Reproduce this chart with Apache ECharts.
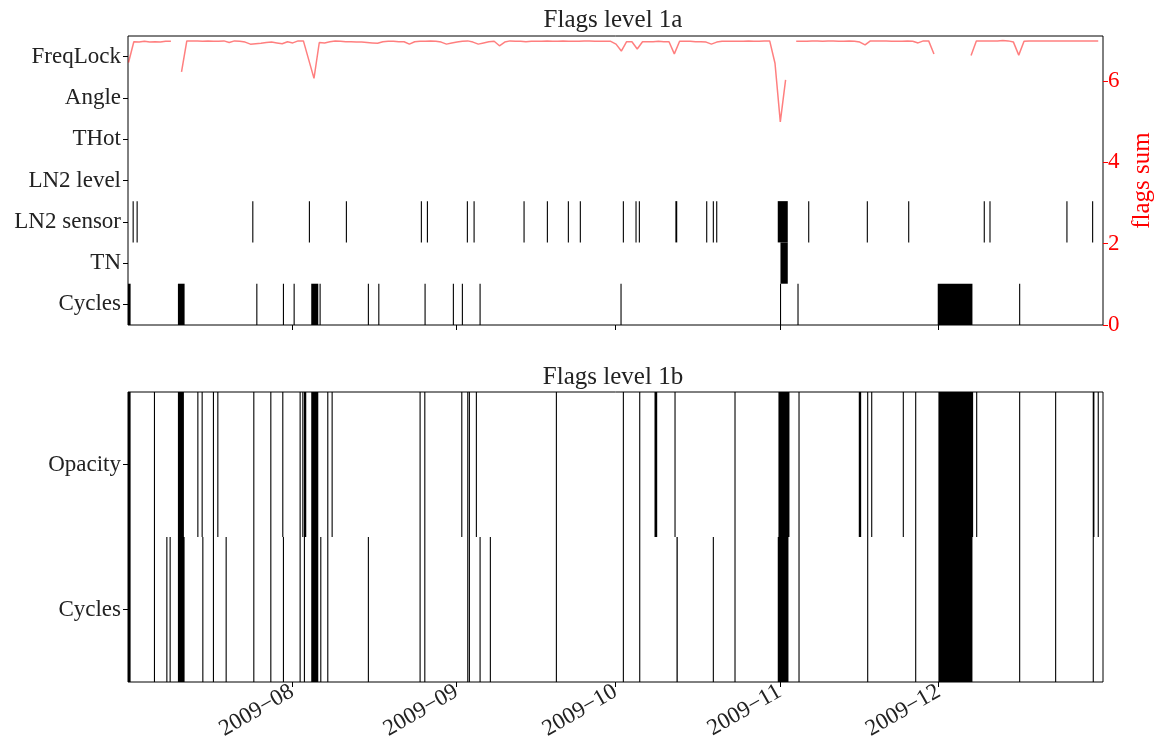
<!DOCTYPE html>
<html>
<head>
<meta charset="utf-8">
<script src="https://cdn.jsdelivr.net/npm/echarts@6/dist/echarts.min.js"></script>
<style>
html,body{margin:0;padding:0;background:#fff;}
#chart{width:1156px;height:754px;}
</style>
</head>
<body>
<div id="chart"></div>
<script>
// ---------------- DATA ----------------
// day offsets from 2009-07-01 (UTC); each flag event is [startDay, endDay]
const startDate = [2009, 6, 1];
const endDate = [2010, 0, 1];
const monthTicks = ['2009-08-01', '2009-09-01', '2009-10-01', '2009-11-01', '2009-12-01'];

const rows1a = ['Cycles', 'TN', 'LN2 sensor', 'LN2 level', 'THot', 'Angle', 'FreqLock'];
const rows1b = ['Cycles', 'Opacity'];

const flags1aCycles = [[0,0.49],[9.42,10.68],[24.21,24.4],[29.23,29.42],[31.25,31.44],[34.58,35.91],[36.15,36.34],[45.26,45.45],[47.23,47.42],[55.96,56.15],[61.3,61.49],[63.0,63.19],[66.34,66.53],[92.94,93.13],[123.04,123.23],[126.34,126.53],[152.81,159.36],[168.17,168.36]];
const flags1aTN = [[123.13,124.51]];
const flags1aLN2sensor = [[0.87,1.06],[1.62,1.81],[23.45,23.64],[34.13,34.32],[41.11,41.3],[55.26,55.45],[56.4,56.59],[63.94,64.13],[65.21,65.4],[74.64,74.83],[79.04,79.23],[83.0,83.19],[85.26,85.45],[93.38,93.57],[95.77,95.96],[96.4,96.59],[103.3,103.65],[109.11,109.3],[110.36,110.55],[111.0,111.19],[122.62,124.51],[128.36,128.55],[139.42,139.61],[147.23,147.42],[161.49,161.68],[162.57,162.76],[177.09,177.28],[181.94,182.13]];
const flags1aLN2level = [];
const flags1aTHot = [];
const flags1aAngle = [];
const flags1aFreqLock = [];

const flags1bCycles = [[0,0.49],[4.89,5.08],[7.23,7.42],[7.85,8.04],[9.42,10.68],[14.02,14.21],[16.02,16.21],[18.42,18.61],[23.64,23.83],[26.85,27.04],[29.23,29.42],[32.38,32.57],[33.19,33.38],[34.58,35.91],[36.28,36.47],[37.6,37.79],[45.26,45.45],[55.02,55.21],[55.91,56.1],[64.02,64.21],[64.32,64.51],[66.34,66.53],[68.28,68.47],[80.74,80.93],[93.38,93.57],[96.47,96.66],[103.51,103.75],[110.36,110.55],[114.45,114.64],[122.62,124.64],[126.53,126.72],[139.49,139.68],[148.55,148.74],[152.94,159.36],[168.17,168.36],[174.96,175.15],[182.06,182.25]];
const flags1bOpacity = [[0,0.49],[4.89,5.08],[9.42,10.55],[13.08,13.27],[13.89,14.08],[16.02,16.21],[16.85,17.04],[23.64,23.83],[26.85,27.04],[29.11,29.3],[32.38,32.57],[32.89,33.08],[33.19,33.64],[34.58,35.91],[37.6,37.79],[38.42,38.61],[55.02,55.21],[55.91,56.1],[62.89,63.08],[64.02,64.21],[64.32,64.51],[65.64,65.83],[80.74,80.93],[93.38,93.57],[96.47,96.66],[99.36,99.87],[103.13,103.32],[114.45,114.64],[122.75,124.83],[126.53,126.72],[137.91,138.36],[139.49,139.68],[140.25,140.44],[146.21,146.4],[148.55,148.74],[152.94,159.49],[160.06,160.25],[168.17,168.36],[174.96,175.15],[182.06,182.38],[183.0,183.19]];

// daily "flags sum" (day 0 = 2009-07-01), null = no data
const flagsSum = [
 6.45,6.96,6.95,6.97,6.95,6.96,6.95,6.97,6.97,null,
 6.22,6.98,6.98,6.98,6.97,6.98,6.97,6.97,6.98,6.94,
 6.98,6.97,6.95,6.90,6.91,6.92,6.94,6.95,6.93,6.91,
 6.96,6.93,6.98,6.98,6.52,6.06,6.94,6.93,6.96,6.98,
 6.97,6.96,6.96,6.95,6.95,6.94,6.93,6.92,6.96,6.97,
 6.97,6.96,6.96,6.90,6.96,6.97,6.97,6.98,6.97,6.95,
 6.90,6.93,6.95,6.97,6.98,6.95,6.90,6.93,6.96,6.97,
 6.86,6.95,6.98,6.97,6.97,6.96,6.97,6.97,6.97,6.98,
 6.97,6.97,6.98,6.97,6.97,6.97,6.98,6.98,6.97,6.97,
 6.97,6.97,6.90,6.73,6.96,6.96,6.78,6.96,6.96,6.96,
 6.97,6.96,6.96,6.66,6.97,6.97,6.97,6.96,6.96,6.95,
 6.90,6.95,6.97,6.97,6.97,6.97,6.97,6.98,6.97,6.97,
 6.98,6.98,6.43,4.99,6.02,null,6.97,6.97,6.97,6.98,
 6.98,6.97,6.98,6.98,6.97,6.97,6.98,6.97,6.95,6.88,
 6.98,6.98,6.98,6.98,6.97,6.97,6.97,6.98,6.97,6.93,
 6.98,6.98,6.66,null,null,null,null,null,null,6.62,
 6.98,6.98,6.98,6.98,6.98,6.99,6.98,6.95,6.63,6.97,
 6.98,6.98,6.98,6.98,6.98,6.98,6.98,6.98,6.98,6.98,
 6.98,6.98,6.98,6.98
];
const sumTicks = [0, 2, 4, 6];

// ---------------- BUILD ----------------
const DAY = 86400000;
const T0 = Date.UTC(startDate[0], startDate[1], startDate[2]);
const T1 = Date.UTC(endDate[0], endDate[1], endDate[2]);
const tickTimes = monthTicks.map(s => Date.parse(s + 'T00:00:00Z'));

function toItems(rowLists) {
  const out = [];
  rowLists.forEach((list, r) => list.forEach(([a, b]) => out.push([T0 + a * DAY, T0 + b * DAY, r])));
  return out;
}
const data1a = toItems([flags1aCycles, flags1aTN, flags1aLN2sensor, flags1aLN2level, flags1aTHot, flags1aAngle, flags1aFreqLock]);
const data1b = toItems([flags1bCycles, flags1bOpacity]);
const sumData = flagsSum.map((v, i) => [T0 + (i + 0.1) * DAY, v]);

const FONT = "'Liberation Serif', 'DejaVu Serif', serif";
const FS = 23;

function renderFlag(params, api) {
  const r = api.value(2);
  const s = api.coord([api.value(0), r]);
  const e = api.coord([api.value(1), r]);
  const h = api.size([0, 1])[1];
  let w = e[0] - s[0];
  if (w < 1.1) w = 1.1;
  return {
    type: 'rect',
    shape: { x: s[0], y: s[1] - h / 2, width: w, height: h },
    style: { fill: '#000' }
  };
}

function fmtMonth(v) {
  const d = new Date(v);
  return d.getUTCFullYear() + '\u2212' + String(d.getUTCMonth() + 1).padStart(2, '0');
}

const gridL = 128, gridR = 53;
const chart = echarts.init(document.getElementById('chart'), null, { renderer: 'canvas' });

const xBase = {
  type: 'value', min: T0, max: T1, scale: true,
  axisLine: { show: false },
  splitLine: { show: false },
  axisTick: { show: true, length: 5, lineStyle: { color: '#000', width: 1 }, customValues: tickTimes },
};

chart.setOption({
  animation: false,
  backgroundColor: '#fff',
  textStyle: { fontFamily: FONT },
  graphic: [
    { type: 'text', x: 613, y: 20, style: { text: 'Flags level 1a', font: '25px ' + FONT, fill: '#222', align: 'center', verticalAlign: 'middle' } },
    { type: 'text', x: 613, y: 377, style: { text: 'Flags level 1b', font: '25px ' + FONT, fill: '#222', align: 'center', verticalAlign: 'middle' } }
  ],
  grid: [
    { left: gridL, right: gridR, top: 36, height: 289, show: true, borderColor: '#000', borderWidth: 1, backgroundColor: 'transparent', containLabel: false, outerBoundsMode: 'none' },
    { left: gridL, right: gridR, top: 392, height: 290, show: true, borderColor: '#000', borderWidth: 1, backgroundColor: 'transparent', containLabel: false, outerBoundsMode: 'none' }
  ],
  xAxis: [
    Object.assign({}, xBase, { gridIndex: 0, axisLabel: { show: false } }),
    Object.assign({}, xBase, { gridIndex: 1, axisLabel: { show: true, customValues: tickTimes, formatter: fmtMonth, rotate: 30, margin: 8, fontSize: 23, color: '#222', fontFamily: FONT } })
  ],
  yAxis: [
    { type: 'category', gridIndex: 0, data: rows1a, boundaryGap: true,
      axisLine: { show: false }, splitLine: { show: false },
      axisTick: { show: true, alignWithLabel: true, length: 5, lineStyle: { color: '#000' } },
      axisLabel: { fontSize: FS, color: '#222', margin: 7, fontFamily: FONT } },
    { type: 'value', gridIndex: 0, position: 'right', min: 0, max: 7.1,
      axisLine: { show: false }, splitLine: { show: false },
      axisTick: { show: true, length: 5, lineStyle: { color: '#ff0000' }, customValues: sumTicks },
      axisLabel: { show: true, customValues: sumTicks, fontSize: FS, color: '#ff0000', margin: 5, fontFamily: FONT },
      name: 'flags sum', nameLocation: 'middle', nameRotate: 90, nameGap: 26,
      nameTextStyle: { color: '#ff0000', fontSize: 25, fontFamily: FONT } },
    { type: 'category', gridIndex: 1, data: rows1b, boundaryGap: true,
      axisLine: { show: false }, splitLine: { show: false },
      axisTick: { show: true, alignWithLabel: true, length: 5, lineStyle: { color: '#000' } },
      axisLabel: { fontSize: FS, color: '#222', margin: 7, fontFamily: FONT } }
  ],
  series: [
    { type: 'custom', xAxisIndex: 0, yAxisIndex: 0, renderItem: renderFlag, encode: { x: [0, 1], y: 2 }, data: data1a, clip: true, z: 2 },
    { type: 'line', xAxisIndex: 0, yAxisIndex: 1, data: sumData, showSymbol: false, symbol: 'none', connectNulls: false,
      lineStyle: { color: 'rgba(255,0,0,0.5)', width: 1.5 }, z: 3 },
    { type: 'custom', xAxisIndex: 1, yAxisIndex: 2, renderItem: renderFlag, encode: { x: [0, 1], y: 2 }, data: data1b, clip: true, z: 2 }
  ]
});
</script>
</body>
</html>
